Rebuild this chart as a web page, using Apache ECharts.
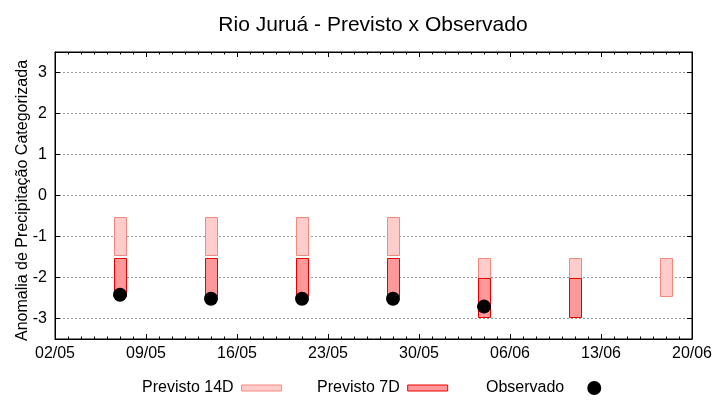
<!DOCTYPE html>
<html>
<head>
<meta charset="utf-8">
<script src="https://cdn.jsdelivr.net/npm/echarts@6/dist/echarts.min.js"></script>
<style>html,body{margin:0;padding:0;background:#fff}#c{width:720px;height:400px}</style>
</head>
<body>
<div id="c"></div>
<script>
// ---- data ----
const startDate = '02/05';
const xTickLabels = ['02/05','09/05','16/05','23/05','30/05','06/06','13/06','20/06'];
const forecastDates = ['07/05','14/05','21/05','28/05','04/06','11/06','18/06'];
const prev14Top    = [-0.52, -0.52, -0.52, -0.52, -1.52, -1.52, -1.52];
const prev14Bottom = [-1.45, -1.45, -1.45, -1.45, -2.45, -2.45, -2.45];
const prev7Dates   = ['07/05','14/05','21/05','28/05','04/06','11/06'];
const prev7Top     = [-1.52, -1.52, -1.52, -1.52, -2.0, -2.0];
const prev7Bottom  = [-2.45, -2.45, -2.45, -2.45, -2.96, -2.96];
const obsDates     = ['07/05','14/05','21/05','28/05','04/06'];
const obsValues    = [-2.42, -2.52, -2.52, -2.52, -2.71];

// convert DD/MM to day offset from start
function dayOf(s){ const [d,m]=s.split('/').map(Number); return Date.UTC(2000,m-1,d)/86400000; }
const d0 = dayOf(startDate);
const dx = s => dayOf(s) - d0;
const xMax = dx(xTickLabels[xTickLabels.length-1]);

const data14 = forecastDates.map((d,i)=>[dx(d), prev14Top[i], prev14Bottom[i]]);
const data7  = prev7Dates.map((d,i)=>[dx(d), prev7Top[i], prev7Bottom[i]]);
const dataObs = obsDates.map((d,i)=>[dx(d), obsValues[i]]);

const FONT = 'Liberation Sans, Arial, sans-serif';
const C14 = {fill:'#ffcccc', stroke:'#f2897c'};
const C7  = {fill:'#ff9999', stroke:'#e80000'};

function boxRenderer(col){
  return function(params, api){
    const x = api.value(0);
    const p1 = api.coord([x, api.value(1)]);
    const p2 = api.coord([x, api.value(2)]);
    const w = api.size([0.9, 0])[0];
    const left = Math.round(p1[0] - w/2) + 0.5;
    const top = Math.round(p1[1]) + 0.5;
    const bot = Math.round(p2[1]) + 0.5;
    return {type:'rect', shape:{x:left, y:top, width:Math.round(w), height:bot-top},
            style:{fill:col.fill, stroke:col.stroke, lineWidth:1}};
  };
}

const chart = echarts.init(document.getElementById('c'), null, {renderer:'canvas'});
const axisLine = {show:true, onZero:false, lineStyle:{color:'#000', width:1}};
const legendText = {color:'#000', fontSize:16, fontFamily:FONT, padding:[0,3,0,0]};
chart.setOption({
  animation:false,
  backgroundColor:'#fff',
  title:{text:'Rio Juruá - Previsto x Observado', left:373, textAlign:'center', top:15, padding:0,
         textStyle:{fontSize:21, fontWeight:'normal', color:'#000', fontFamily:FONT}},
  grid:{left:55, right:28, top:52, bottom:61, show:true, borderColor:'#000', borderWidth:1,
        containLabel:false, outerBoundsMode:'none'},
  legend:[
    {left:142, top:380, padding:0, selectedMode:false, align:'right', itemWidth:40, itemHeight:6, textStyle:legendText,
     data:[{name:'Previsto 14D', icon:'rect', itemStyle:{color:C14.fill, borderColor:C14.stroke, borderWidth:1}}]},
    {left:317, top:380, padding:0, selectedMode:false, align:'right', itemWidth:40, itemHeight:6, textStyle:legendText,
     data:[{name:'Previsto 7D', icon:'rect', itemStyle:{color:C7.fill, borderColor:C7.stroke, borderWidth:1}}]},
    {left:486, top:380, padding:0, selectedMode:false, align:'right', itemWidth:44, itemHeight:14, textStyle:legendText,
     data:[{name:'Observado', icon:'circle', itemStyle:{color:'#000', opacity:1}}]}
  ],
  xAxis:[
    {type:'value', min:0, max:xMax, interval:7, position:'bottom',
     axisLine:axisLine, splitLine:{show:false},
     axisTick:{show:true, inside:true, length:5, lineStyle:{color:'#000'}},
     minorTick:{show:true, splitNumber:7, length:2.5, lineStyle:{color:'#000'}},
     axisLabel:{margin:7, fontSize:16, color:'#000', fontFamily:FONT,
       formatter:v=>xTickLabels[Math.round(v/7)] || ''}},
    {type:'value', min:0, max:xMax, interval:7, position:'top',
     axisLine:axisLine, splitLine:{show:false},
     axisTick:{show:true, inside:true, length:5, lineStyle:{color:'#000'}},
     minorTick:{show:true, splitNumber:7, length:2.5, lineStyle:{color:'#000'}},
     axisLabel:{show:false}}
  ],
  yAxis:[
    {type:'value', min:-3.5, max:3.5, splitNumber:7, position:'left',
     name:'Anomalia de Precipitação Categorizada', nameLocation:'middle', nameGap:24, nameRotate:90,
     nameMoveOverlap:false,
     nameTextStyle:{fontSize:16, color:'#000', fontFamily:FONT, padding:[0,10,0,0]},
     axisLine:axisLine,
     axisTick:{show:true, inside:true, length:5, lineStyle:{color:'#000'}},
     splitLine:{show:true, lineStyle:{color:'#999', width:1, type:[2,2]}},
     axisLabel:{margin:8, fontSize:16, color:'#000', fontFamily:FONT, showMinLabel:false, showMaxLabel:false,
       formatter:v=>Number.isInteger(v)?String(v):''}},
    {type:'value', min:-3.5, max:3.5, splitNumber:7, position:'right',
     axisLine:axisLine, splitLine:{show:false},
     axisTick:{show:true, inside:true, length:5, lineStyle:{color:'#000'}},
     axisLabel:{show:false}}
  ],
  series:[
    {name:'Previsto 14D', type:'custom', xAxisIndex:0, yAxisIndex:0, renderItem:boxRenderer(C14),
     itemStyle:{color:C14.fill}, encode:{x:0, y:[1,2]}, data:data14},
    {name:'Previsto 7D', type:'custom', xAxisIndex:0, yAxisIndex:0, renderItem:boxRenderer(C7),
     itemStyle:{color:C7.fill}, encode:{x:0, y:[1,2]}, data:data7},
    {name:'Observado', type:'scatter', xAxisIndex:0, yAxisIndex:0, symbol:'circle', symbolSize:14,
     itemStyle:{color:'#000', opacity:1}, data:dataObs, z:5}
  ]
});
</script>
</body>
</html>
